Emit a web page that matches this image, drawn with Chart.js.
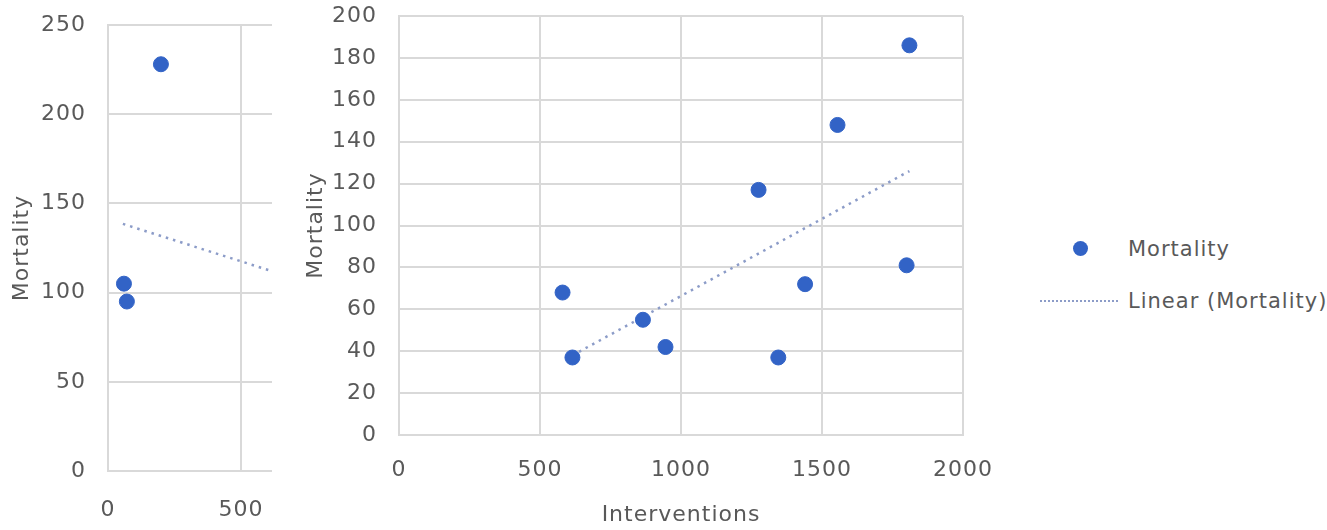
<!DOCTYPE html>
<html>
<head>
<meta charset="utf-8">
<script src="https://cdn.jsdelivr.net/npm/chart.js@4.4.1/dist/chart.umd.min.js"></script>
<style>
  html, body { margin: 0; padding: 0; background: #fff; }
  body { width: 1327px; height: 530px; position: relative; overflow: hidden; font-family: "DejaVu Sans", sans-serif; }
  #leftWrap { position: absolute; left: 0; top: 0; width: 272px; height: 530px; overflow: hidden; }
  #leftWrap canvas { position: absolute; left: 0; top: 0; }
  #mainWrap { position: absolute; left: 300px; top: 0; width: 700px; height: 530px; }
  .legend { position: absolute; left: 1000px; top: 0; width: 327px; height: 530px; color: #595959; font-size: 21px; letter-spacing: 1px; }
  .legend .item { position: absolute; left: 0; height: 26px; line-height: 26px; }
  .legend .dot { position: absolute; left: 73px; top: 5px; width: 15px; height: 15px; border-radius: 50%; background: #3263c6; }
  .legend .dash { position: absolute; left: 40px; top: 12px; width: 78px; border-top: 2px dotted #8c9cc8; }
  .legend .label { position: absolute; left: 128px; top: 0; white-space: nowrap; }
</style>
</head>
<body>
<div id="leftWrap"><canvas id="leftChart" width="520" height="530"></canvas></div>
<div id="mainWrap"><canvas id="mainChart" width="700" height="530"></canvas></div>
<div class="legend">
  <div class="item" style="top:236px"><span class="dot"></span><span class="label">Mortality</span></div>
  <div class="item" style="top:288px"><span class="dash"></span><span class="label">Linear (Mortality)</span></div>
</div>
<script>
// left panel (cut off in the picture)
const leftInterventions = [60, 71, 199];
const leftMortality = [105, 95, 228];
const leftTrendX = [56, 617];
const leftTrendY = [138.5, 112];

// main panel
const interventions = [580, 615, 865, 945, 1275, 1345, 1440, 1555, 1800, 1810];
const mortality = [68, 37, 55, 42, 117, 37, 72, 148, 81, 186];
const trendX = [615, 1810];
const trendY = [38, 126];

const dotColor = '#3263c6';
const trendColor = '#8c9cc8';
const gridColor = '#d9d9d9';
const textColor = '#595959';
const font = { family: 'DejaVu Sans', size: 22 };

Chart.defaults.font.family = 'DejaVu Sans';
Chart.defaults.color = textColor;

// the text in the picture is a bit wider than the plain font
const spacing = {
    id: 'spacing',
    beforeUpdate: (chart) => { chart.ctx.letterSpacing = '1px'; },
    beforeDraw: (chart) => { chart.ctx.letterSpacing = '1px'; }
};

function toPoints(xs, ys) {
    return xs.map((x, i) => ({ x: x, y: ys[i] }));
}

function makeChart(id, cfg) {
    return new Chart(document.getElementById(id), {
        type: 'scatter',
        plugins: [spacing],
        data: {
            datasets: [{
                label: 'Mortality',
                data: toPoints(cfg.xs, cfg.ys),
                backgroundColor: dotColor,
                borderColor: dotColor,
                pointRadius: 7.5,
                pointHoverRadius: 7.5
            }, {
                label: 'Linear (Mortality)',
                data: toPoints(cfg.tx, cfg.ty),
                showLine: true,
                borderColor: trendColor,
                borderWidth: 2.5,
                borderDash: [2.5, 5],
                pointRadius: 0
            }]
        },
        options: {
            responsive: false,
            animation: false,
            layout: { padding: { top: cfg.top, right: cfg.right, left: 0, bottom: 0 } },
            plugins: { legend: { display: false }, tooltip: { enabled: false } },
            scales: {
                x: {
                    min: 0, max: cfg.xMax,
                    ticks: { stepSize: 500, font: font, padding: cfg.xPad, maxRotation: 0, callback: (v) => String(v) },
                    grid: { color: gridColor, lineWidth: 2, drawTicks: false },
                    border: { color: gridColor, width: 2 },
                    title: { display: cfg.xTitle, text: 'Interventions', font: font, padding: { top: 0, bottom: 2 } },
                    afterFit: (s) => { s.height = cfg.xH; s.paddingLeft = 0; s.paddingRight = 0; }
                },
                y: {
                    min: 0, max: cfg.yMax,
                    ticks: { stepSize: cfg.yStep, font: font, padding: 22, callback: (v) => String(v) },
                    grid: { color: gridColor, lineWidth: 2, drawTicks: false },
                    border: { color: gridColor, width: 2 },
                    title: { display: true, text: 'Mortality', font: font, padding: { top: cfg.yTitlePad, bottom: 0 } },
                    afterFit: (s) => { s.width = cfg.yW; s.paddingTop = 0; s.paddingBottom = 0; }
                }
            }
        }
    });
}

makeChart('leftChart', {
    xs: leftInterventions, ys: leftMortality, tx: leftTrendX, ty: leftTrendY,
    top: 25, right: 13, xMax: 1500, yMax: 250, yStep: 50,
    xPad: 26, xH: 59, xTitle: false, yW: 108, yTitlePad: 9
});

makeChart('mainChart', {
    xs: interventions, ys: mortality, tx: trendX, ty: trendY,
    top: 16, right: 37, xMax: 2000, yMax: 200, yStep: 20,
    xPad: 22, xH: 95, xTitle: true, yW: 99, yTitlePad: 3
});
</script>
</body>
</html>
